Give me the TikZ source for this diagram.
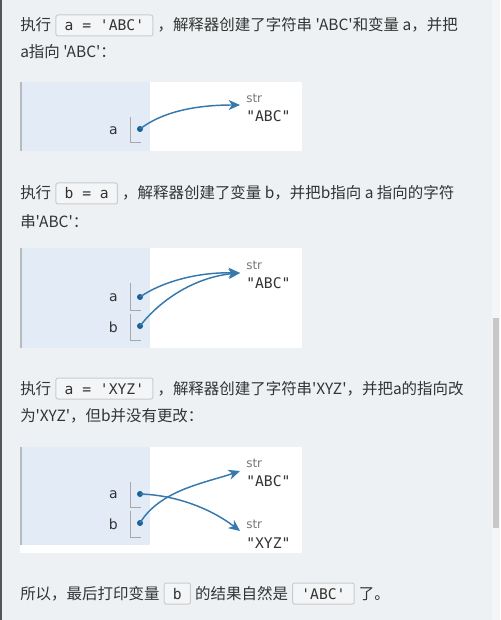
\documentclass[tikz,border=0pt]{standalone}
\usepackage{fontspec}
\usetikzlibrary{positioning,arrows.meta}
\newfontfamily\cnfont{Noto Sans CJK SC}
\newfontfamily\monofont{DejaVu Sans Mono}
\newfontfamily\vizfont{DejaVu Sans}
\definecolor{pagebg}{HTML}{EEF1F3}
\definecolor{edgecol}{HTML}{555555}
\definecolor{trackcol}{HTML}{F4F5F6}
\definecolor{thumbcol}{HTML}{C8C8C8}
\definecolor{textcol}{HTML}{333333}
\definecolor{codebg}{HTML}{F4F5F6}
\definecolor{codeline}{HTML}{C9CCCF}
\definecolor{framebg}{HTML}{E2EBF6}
\definecolor{framebar}{HTML}{B4BCC0}
\definecolor{slotcol}{HTML}{A8A8A8}
\definecolor{dotcol}{HTML}{1A5F94}
\definecolor{arrowcol}{HTML}{3579AE}
\definecolor{typecol}{HTML}{777777}
\tikzset{
  txt/.style={inner sep=0pt, text=textcol, font=\cnfont\fontsize{11.6pt}{14pt}\selectfont},
  code/.style={draw=codeline, fill=codebg, rounded corners=1.5pt, line width=0.75pt,
    inner xsep=6.5pt, inner ysep=0pt, text height=12pt, text depth=3.75pt,
    text=textcol, font=\monofont\fontsize{11pt}{13pt}\selectfont},
  varname/.style={anchor=east, inner sep=0pt, text=textcol, font=\vizfont\fontsize{10.5pt}{12pt}\selectfont},
  ptr/.style={circle, fill=dotcol, inner sep=0pt, minimum size=4.5pt},
  typelbl/.style={anchor=west, inner sep=0pt, text=typecol, font=\vizfont\fontsize{9pt}{10pt}\selectfont},
  strval/.style={anchor=west, inner sep=0pt, text=textcol, font=\monofont\fontsize{11pt}{12pt}\selectfont},
  slot/.style={draw=slotcol, line width=0.75pt},
  ref/.style={draw=arrowcol, line width=1.1pt, -{Stealth[length=8.5pt,width=7.5pt,inset=2.5pt]}},
}
\begin{document}
\begin{tikzpicture}[x=0.75pt,y=0.75pt,yscale=-1,xscale=1]

\useasboundingbox (0,0) rectangle (500,620);
\fill [pagebg] (0,0) rectangle (500,620);
\fill [edgecol] (0,0) rectangle (2,620);
\fill [trackcol] (492,0) rectangle (500,620);
\fill [thumbcol] (493,318) rectangle (499,528);

\node [txt, anchor=base west] (t1a) at (20,31) {执行};
\node [code, base right=3pt of t1a] (c1) {a = 'ABC'};
\node [txt, base right=3pt of c1] (t1b) {，解释器创建了字符串 'ABC'和变量 a，并把};
\node [txt, anchor=base west] (t2) at (20,58) {a指向 'ABC'：};

\fill [white] (20,82) rectangle (302,151);
\fill [framebg] (20,82) rectangle (150,151);
\draw [framebar, line width=1.5pt] (21,82) -- (21,151);
\node [varname] (a1) at (118,131) {a};
\node [ptr] (pa1) at (140,129) {};
\draw [slot] (130,117) -- (130,143) -- (141,143);
\node [typelbl] (s1) at (246,98) {str};
\node [strval] (v1) at (246,116) {"ABC"};
\coordinate (o1) at (240,105);
\draw [ref] (pa1.center) .. controls (162,112) and (195,105) .. (o1);

\node [txt, anchor=base west] (t3a) at (20,199) {执行};
\node [code, base right=3pt of t3a] (c3) {b = a};
\node [txt, base right=3pt of c3] (t3b) {，解释器创建了变量 b，并把b指向 a 指向的字符};
\node [txt, anchor=base west] (t4) at (20,227) {串'ABC'：};

\fill [white] (20,248) rectangle (302,348);
\fill [framebg] (20,248) rectangle (150,348);
\draw [framebar, line width=1.5pt] (21,248) -- (21,348);
\node [varname] (a2) at (118,298) {a};
\node [ptr] (pa2) at (140,297) {};
\draw [slot] (130,283) -- (130,310) -- (141,310);
\node [varname] (b2) at (118,327) {b};
\node [ptr] (pb2) at (140,326) {};
\draw [slot] (130,314) -- (130,340) -- (141,340);
\node [typelbl] (s2) at (246,265) {str};
\node [strval] (v2) at (246,283) {"ABC"};
\coordinate (o2) at (240,273);
\draw [ref] (pa2.center) .. controls (160,283) and (195,272) .. (o2);
\draw [ref] (pb2.center) .. controls (160,300) and (195,277) .. (o2);

\node [txt, anchor=base west] (t5a) at (20,394) {执行};
\node [code, base right=3pt of t5a] (c5) {a = 'XYZ'};
\node [txt, base right=3pt of c5] (t5b) {，解释器创建了字符串'XYZ'，并把a的指向改};
\node [txt, anchor=base west] (t6) at (20,421) {为'XYZ'，但b并没有更改：};

\fill [white] (20,447) rectangle (302,553);
\fill [framebg] (20,447) rectangle (150,545);
\draw [framebar, line width=1.5pt] (21,447) -- (21,545);
\node [varname] (a3) at (118,495) {a};
\node [ptr] (pa3) at (140,494) {};
\draw [slot] (130,482) -- (130,507) -- (141,507);
\node [varname] (b3) at (118,524) {b};
\node [ptr] (pb3) at (140,523) {};
\draw [slot] (130,511) -- (130,537) -- (141,537);
\node [typelbl] (s3) at (246,463) {str};
\node [strval] (v3) at (246,481) {"ABC"};
\node [typelbl] (s4) at (246,524) {str};
\node [strval] (v4) at (246,543) {"XYZ"};
\coordinate (o3) at (240,471);
\coordinate (o4) at (240,531);
\draw [ref] (pb3.center) .. controls (160,490) and (205,483) .. (o3);
\draw [ref] (pa3.center) .. controls (175,495) and (210,508) .. (o4);

\node [txt, anchor=base west] (t7a) at (20,599) {所以，最后打印变量};
\node [code, base right=3pt of t7a] (c7a) {b};
\node [txt, base right=3pt of c7a] (t7b) {的结果自然是};
\node [code, base right=3pt of t7b] (c7b) {'ABC'};
\node [txt, base right=3pt of c7b] (t7c) {了。};
\end{tikzpicture}
\end{document}
